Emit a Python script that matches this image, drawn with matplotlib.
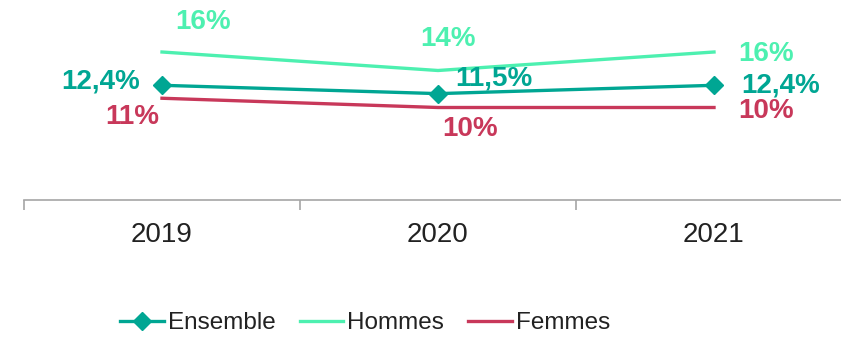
import matplotlib.pyplot as plt
import numpy as np

# data
years = ["2019", "2020", "2021"]
ensemble = [12.4, 11.5, 12.4]
hommes = [16, 14, 16]
femmes = [11, 10, 10]
ensemble_labels = ["12,4%", "11,5%", "12,4%"]
hommes_labels = ["16%", "14%", "16%"]
femmes_labels = ["11%", "10%", "10%"]

c_ens = "#00A693"
c_hom = "#4DF0B0"
c_fem = "#C8385A"

plt.rcParams['font.family'] = ['Liberation Sans', 'DejaVu Sans']

fig = plt.figure(figsize=(8.41, 3.37), dpi=100)
ax = fig.add_axes([24 / 841, 137 / 337, 828 / 841, 185 / 337])

x = np.arange(len(years))
ax.plot(x, hommes, color=c_hom, lw=2.4, label="Hommes", zorder=2)
ax.plot(x, femmes, color=c_fem, lw=2.4, label="Femmes", zorder=2)
ax.plot(x, ensemble, color=c_ens, lw=2.4, marker="D", markersize=9,
        label="Ensemble", zorder=3)

# label offsets in pixels (dx, dy)
off_hom = [(41, 30), (10, 31), (52, -2)]
off_ens = [(-61, 4), (56, 15), (67, 0)]
off_fem = [(-30, -19), (32, -22), (52, -4)]

for vals, labs, offs, col in [(hommes, hommes_labels, off_hom, c_hom),
                              (ensemble, ensemble_labels, off_ens, c_ens),
                              (femmes, femmes_labels, off_fem, c_fem)]:
    for xi, v, t, o in zip(x, vals, labs, offs):
        ax.annotate(t, (xi, v), xytext=o, textcoords="offset pixels",
                    ha="center", va="center", fontsize=20, fontweight="bold",
                    color=col)

ax.set_xlim(-0.5, 2.5)
ax.set_ylim(0, 20)
ax.set_xticks(x)
ax.set_xticklabels(years, fontsize=20, color="#222222")
ax.tick_params(axis="x", which="major", length=0, pad=16)
ax.set_xticks([-0.5, 0.5, 1.5, 2.5], minor=True)
ax.tick_params(axis="x", which="minor", length=7, color="#A6A6A6", width=1.2)
ax.set_yticks([])
for s in ["top", "right", "left"]:
    ax.spines[s].set_visible(False)
ax.spines["bottom"].set_color("#A6A6A6")
ax.spines["bottom"].set_linewidth(1.2)

h, l = ax.get_legend_handles_labels()
order = [2, 0, 1]
fig.legend([h[i] for i in order], [l[i] for i in order], loc="center",
           bbox_to_anchor=(365 / 841, 1 - 323 / 337), ncol=3, frameon=False,
           fontsize=17.5, handlelength=1.8, handletextpad=0.15,
           columnspacing=1.0, labelcolor="#222222")

fig.savefig("out.png", dpi=100)
